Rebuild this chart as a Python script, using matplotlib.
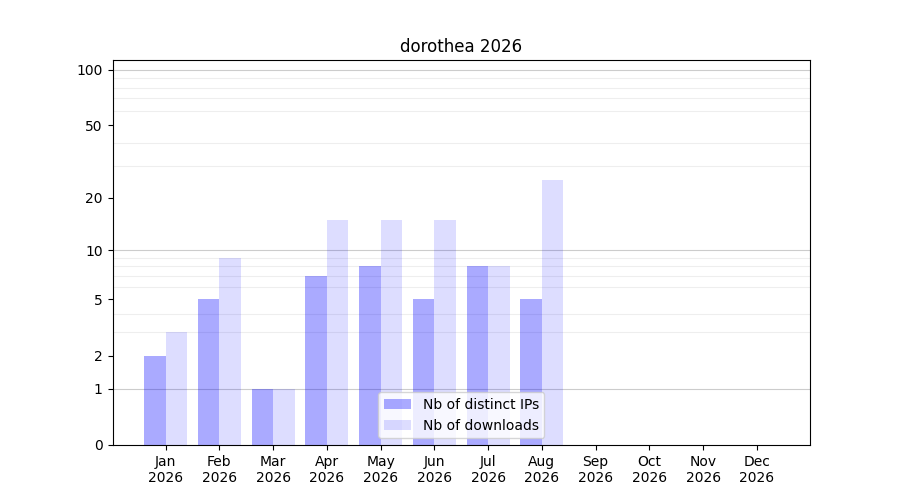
import numpy as np
import matplotlib
matplotlib.use('Agg')
import matplotlib.pyplot as plt
from matplotlib.ticker import FixedLocator, FixedFormatter

# données
months = ['Jan', 'Feb', 'Mar', 'Apr', 'May', 'Jun', 'Jul', 'Aug', 'Sep', 'Oct', 'Nov', 'Dec']
year = '2026'
distinct_ips = [2, 5, 1, 7, 8, 5, 8, 5, 0, 0, 0, 0]
downloads = [3, 9, 1, 15, 15, 15, 8, 25, 0, 0, 0, 0]
yticks = [0, 1, 2, 5, 10, 20, 50, 100]


def fwd(y):
    return np.log10(1 + np.clip(y, 0, None))


def inv(y):
    return 10 ** y - 1


fig, ax = plt.subplots(figsize=(9, 5), dpi=100)
x = np.arange(len(months))
w = 0.4
ax.bar(x - w / 2, distinct_ips, w, color=(0, 0, 1, 0.333), label='Nb of distinct IPs', zorder=2)
ax.bar(x + w / 2, downloads, w, color=(0, 0, 1, 0.133), label='Nb of downloads', zorder=2)

ax.set_yscale('function', functions=(fwd, inv))
ax.set_ylim(0, 113)
ax.yaxis.set_major_locator(FixedLocator(yticks))
ax.yaxis.set_major_formatter(FixedFormatter([str(t) for t in yticks]))
minor = [2, 3, 4, 5, 6, 7, 8, 9, 20, 30, 40, 50, 60, 70, 80, 90]
ax.yaxis.set_minor_locator(FixedLocator(minor))
ax.tick_params(axis='y', which='minor', length=0)
ax.grid(True, axis='y', which='minor', color='#eeeeee', linewidth=0.8, zorder=0)
for v in [1, 10, 100]:
    ax.axhline(v, color='#cccccc', linewidth=0.8, zorder=1)

ax.set_xticks(x)
ax.set_xticklabels([m + '\n' + year for m in months])
ax.set_title('dorothea 2026')
ax.legend(loc='lower center')

plt.savefig('out.png', dpi=100)
